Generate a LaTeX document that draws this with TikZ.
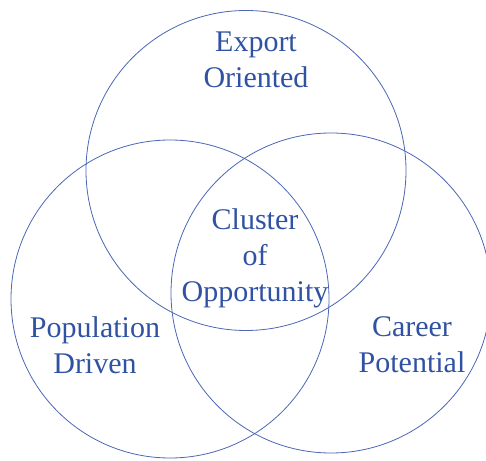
\documentclass[tikz,border=0pt]{standalone}
\usepackage{xcolor}
\usepackage{fontspec}
\setmainfont{Liberation Serif}
\usepackage{tikz}
\definecolor{vennline}{RGB}{74,102,180}
\definecolor{venntext}{RGB}{48,82,162}
\def\setlabel#1#2#3{\node[setlabel] (#1) at (#2) {#3}}
\tikzstyle{setring}=[draw=vennline,line width=0.8pt]
\tikzstyle{setlabel}=[text=venntext,align=center,inner sep=0pt,font=\fontsize{30}{36}\selectfont]

\begin{document}
\begin{tikzpicture}[x=1pt,y=1pt]
    \useasboundingbox (0,0) rectangle (486,460);
    \draw[setring] (246,289.5) circle (160);
    \draw[setring] (170,161) circle (159);
    \draw[setring] (331,167) circle (160);
    \setlabel{export}{256,400}{Export\\Oriented};
    \setlabel{cluster}{255,201.5}{Cluster\\of\\Opportunity};
    \setlabel{population}{95,115}{Population\\Driven};
    \setlabel{career}{412,115}{Career\\Potential};
  \end{tikzpicture}
\end{document}
